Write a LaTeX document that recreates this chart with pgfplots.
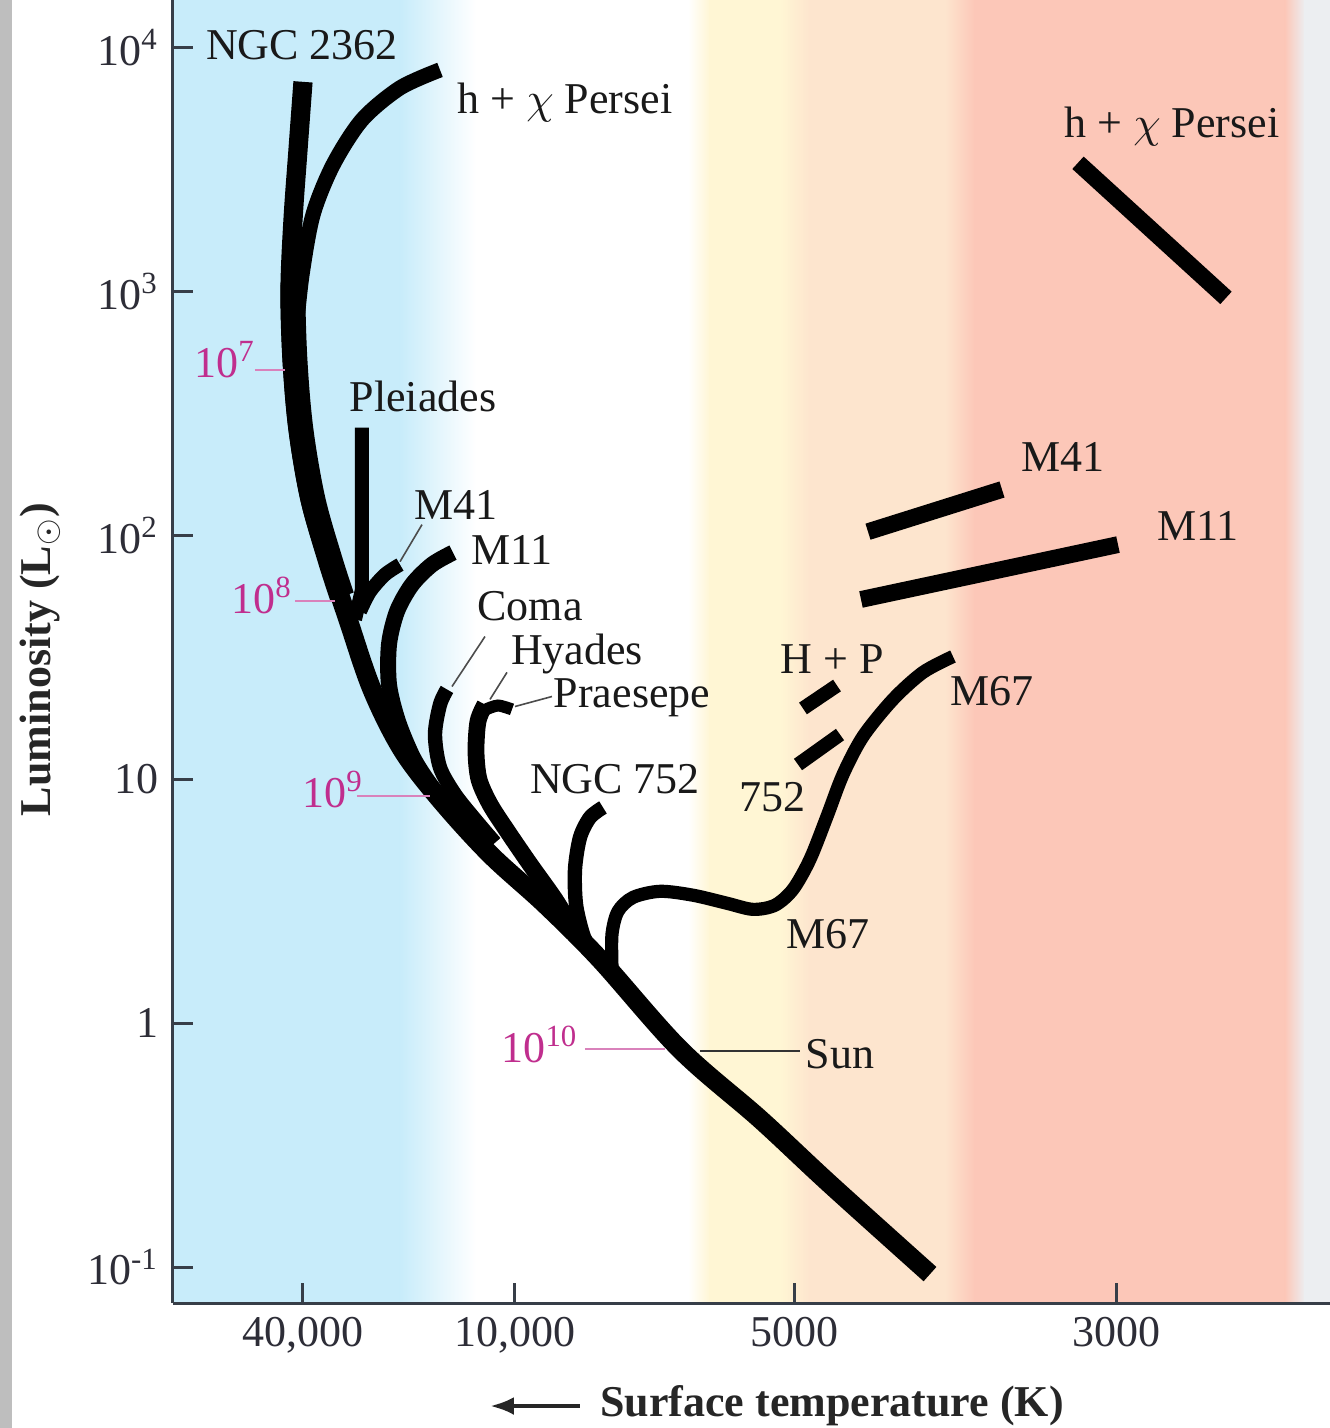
\documentclass[border=0pt]{standalone}
\usepackage{fontspec}
\setmainfont{Liberation Serif}
\usepackage{pgfplots}
\pgfplotsset{compat=1.18}
\usetikzlibrary{arrows.meta}
\definecolor{cblue}{RGB}{200,236,250}
\definecolor{cyellow}{RGB}{255,246,212}
\definecolor{cpeach}{RGB}{253,229,206}
\definecolor{csalmon}{RGB}{252,199,184}
\definecolor{cgrayR}{RGB}{236,238,241}
\definecolor{cgrayL}{RGB}{190,190,190}
\definecolor{cmag}{RGB}{192,46,142}
\definecolor{caxis}{RGB}{55,62,72}
\definecolor{ctick}{RGB}{45,45,55}
\newcommand\lbl{\fontsize{11}{12.5}\selectfont}
\begin{document}
\begin{tikzpicture}
\useasboundingbox (0,0) rectangle (332.5pt,357pt);
\fill[white] (0,0) rectangle (332.5pt,357pt);
\fill[cgrayL] (0,0) rectangle (3pt,357pt);
\begin{axis}[
  at={(43.25pt,31.25pt)}, anchor=south west,
  scale only axis, width=289.25pt, height=325.75pt,
  xmin=173, xmax=1330, ymin=-1.1475, ymax=4.1967,
  clip=false, axis on top,
  axis x line*=bottom, axis y line*=left,
  axis line style={-, line width=0.75pt, color=caxis},
  tick align=inside, major tick length=5pt,
  tick style={line width=0.75pt, color=caxis},
  xtick={303,515,795,1117},
  xticklabels={{40,000},{10,000},{5000},{3000}},
  ytick={-1,0,1,2,3,4},
  yticklabels={10\textsuperscript{-1},1,10,10\textsuperscript{2},10\textsuperscript{3},10\textsuperscript{4}},
  ticklabel style={font=\fontsize{11}{12}\selectfont, text=ctick},
]
% background bands
\addplot[draw=none, fill=cblue] coordinates {(173,-1.1475) (400,-1.1475) (400,4.1967) (173,4.1967)} -- cycle;
\addplot[draw=none, left color=cblue, right color=white] coordinates {(400,-1.1475) (476,-1.1475) (476,4.1967) (400,4.1967)} -- cycle;
\addplot[draw=none, left color=white, right color=cyellow] coordinates {(688,-1.1475) (710,-1.1475) (710,4.1967) (688,4.1967)} -- cycle;
\addplot[draw=none, fill=cyellow] coordinates {(709,-1.1475) (781,-1.1475) (781,4.1967) (709,4.1967)} -- cycle;
\addplot[draw=none, left color=cyellow, right color=cpeach] coordinates {(780,-1.1475) (810,-1.1475) (810,4.1967) (780,4.1967)} -- cycle;
\addplot[draw=none, fill=cpeach] coordinates {(809,-1.1475) (946,-1.1475) (946,4.1967) (809,4.1967)} -- cycle;
\addplot[draw=none, left color=cpeach, right color=csalmon] coordinates {(945,-1.1475) (975,-1.1475) (975,4.1967) (945,4.1967)} -- cycle;
\addplot[draw=none, fill=csalmon] coordinates {(974,-1.1475) (1286,-1.1475) (1286,4.1967) (974,4.1967)} -- cycle;
\addplot[draw=none, left color=csalmon, right color=cgrayR] coordinates {(1285,-1.1475) (1305,-1.1475) (1305,4.1967) (1285,4.1967)} -- cycle;
\addplot[draw=none, fill=cgrayR] coordinates {(1304,-1.1475) (1330,-1.1475) (1330,4.1967) (1304,4.1967)} -- cycle;

% zero-age main sequence (NGC 2362)
\addplot[black, line width=4.8pt, smooth, tension=0.55] coordinates {
 (303,3.861) (298,3.582) (293,3.295) (290,3.008) (292,2.721) (298,2.434)
 (310,2.148) (328,1.902) (348,1.656) (372,1.369) (402,1.123) (440,0.918)
 (490,0.693) (545,0.488) (600,0.262) (680,-0.107) (760,-0.393) (830,-0.660) (930,-1.029)};
% thicker upper part where the young sequences overlap
\addplot[black, line width=6.2pt, smooth, tension=0.55] coordinates {
 (296,3.100) (293,3.008) (295,2.721) (301,2.434) (313,2.148) (330,1.902) (342,1.750)};
% h + chi Persei (upper main sequence)
\addplot[black, line width=3.8pt, smooth, tension=0.5] coordinates {
 (440,3.910) (400,3.836) (362,3.705) (333,3.520) (313,3.316) (302,3.070) (296,2.844)};
% Pleiades
\addplot[black, line width=3.5pt] coordinates {(362,2.443) (362,1.779) (355,1.656)};
% M41
\addplot[black, line width=3.5pt, smooth] coordinates {(400,1.881) (385,1.840) (370,1.770) (360,1.689)};
% M11
\addplot[black, line width=4pt, smooth, tension=0.5] coordinates {
 (453,1.930) (432,1.881) (412,1.799) (397,1.689) (389,1.553) (389,1.389)
 (398,1.238) (413,1.090) (430,0.980) (450,0.877) (470,0.775)};
% Coma
\addplot[black, line width=3.6pt, smooth, tension=0.5] coordinates {
 (447,1.369) (440,1.307) (435,1.184) (440,1.049) (455,0.939) (475,0.836) (495,0.740)};
% Hyades
\addplot[black, line width=4.2pt, smooth, tension=0.5] coordinates {
 (485,1.307) (478,1.238) (476,1.115) (479,1.000) (490,0.898) (507,0.790) (530,0.652) (555,0.508) (574,0.380)};
% Praesepe
\addplot[black, line width=3pt, smooth] coordinates {(512,1.287) (498,1.303) (486,1.287)};
% NGC 752
\addplot[black, line width=3.6pt, smooth, tension=0.5] coordinates {
 (603,0.885) (590,0.844) (580,0.762) (575,0.631) (576,0.488) (583,0.365) (592,0.283)};
% M67
\addplot[black, line width=3.3pt, smooth, tension=0.5] coordinates {
 (612,0.230) (612,0.365) (618,0.459) (633,0.516) (660,0.541) (693,0.525)
 (727,0.492) (753,0.467) (775,0.484) (793,0.549) (810,0.672) (827,0.848)
 (843,1.020) (863,1.176) (893,1.328) (923,1.439) (953,1.504)};
% H + P and 752 red giants
\addplot[black, line width=3.5pt] coordinates {(803,1.291) (837,1.385)};
\addplot[black, line width=3.5pt] coordinates {(798,1.061) (840,1.184)};
% giant branches
\addplot[black, line width=4.2pt] coordinates {(868,2.016) (1002,2.189)};
\addplot[black, line width=4.2pt] coordinates {(861,1.738) (1118,1.963)};
\addplot[black, line width=4.2pt] coordinates {(1078,3.529) (1226,2.975)};

% leader lines
\addplot[black!70, line width=0.4pt] coordinates {(422,2.045) (400,1.893)};
\addplot[black!70, line width=0.4pt] coordinates {(485,1.586) (452,1.381)};
\addplot[black!70, line width=0.4pt] coordinates {(507,1.439) (490,1.328)};
\addplot[black!70, line width=0.4pt] coordinates {(552,1.340) (515,1.299)};
\addplot[cmag!60, line width=0.5pt] coordinates {(255,2.680) (285,2.680)};
\addplot[cmag!60, line width=0.5pt] coordinates {(295,1.730) (335,1.730)};
\addplot[cmag!60, line width=0.5pt] coordinates {(357,0.930) (430,0.930)};
\addplot[cmag!60, line width=0.5pt] coordinates {(585,-0.107) (665,-0.107)};
\addplot[black!80, line width=0.5pt] coordinates {(700,-0.115) (800,-0.115)};

% labels
\begin{scope}[every node/.style={font=\lbl, text=black!90, inner sep=0pt}]
\node at (axis cs:302,4.012) {NGC 2362};
\node at (axis cs:565,3.775) {h + $\chi$ Persei};
\node at (axis cs:1172,3.676) {h + $\chi$ Persei};
\node at (axis cs:423,2.570) {Pleiades};
\node at (axis cs:456,2.127) {M41};
\node at (axis cs:512,1.943) {M11};
\node at (axis cs:530,1.712) {Coma};
\node at (axis cs:577,1.515) {Hyades};
\node at (axis cs:632,1.335) {Praesepe};
\node at (axis cs:615,1.000) {NGC 752};
\node at (axis cs:773,0.926) {752};
\node at (axis cs:832,1.492) {H + P};
\node at (axis cs:992,1.361) {M67};
\node at (axis cs:828,0.365) {M67};
\node at (axis cs:840,-0.127) {Sun};
\node at (axis cs:1063,2.324) {M41};
\node at (axis cs:1198,2.041) {M11};
\end{scope}
\begin{scope}[every node/.style={font=\lbl, text=cmag, inner sep=0pt}]
\node at (axis cs:225,2.721) {10\textsuperscript{7}};
\node at (axis cs:262,1.754) {10\textsuperscript{8}};
\node at (axis cs:333,0.959) {10\textsuperscript{9}};
\node at (axis cs:540,-0.086) {10\textsuperscript{10}};
\end{scope}
% axis titles
\node[font=\fontsize{11}{12}\selectfont\bfseries, text=black!85, inner sep=0pt] at (axis cs:832,-1.570) {Surface temperature (K)};
\draw[line width=1.1pt, black!85, -{Latex[length=6pt,width=4.5pt]}] (axis cs:580,-1.570) -- (axis cs:490,-1.570);
\node[font=\fontsize{11}{12}\selectfont\bfseries, text=black!85, inner sep=0pt, rotate=90] at (axis cs:40,1.492) {Luminosity (L$_{\odot}$)};
\end{axis}
\end{tikzpicture}
\end{document}
